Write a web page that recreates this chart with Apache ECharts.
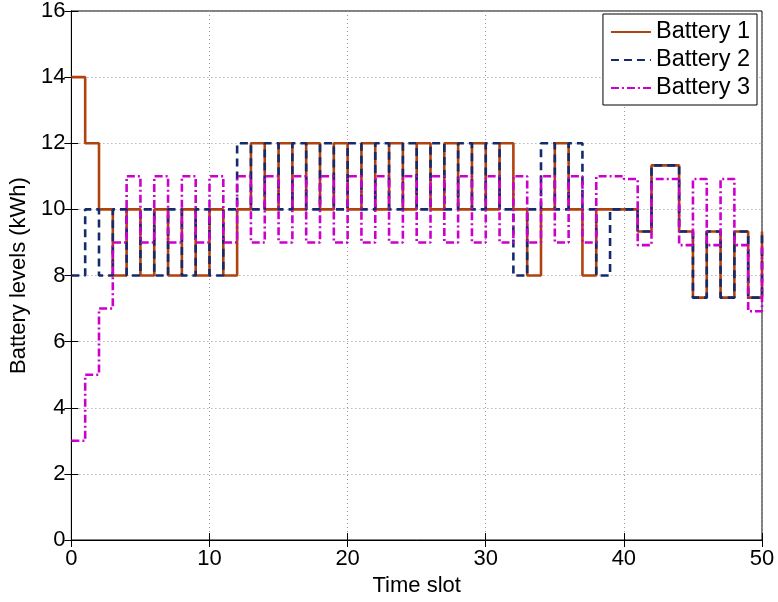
<!DOCTYPE html>
<html>
<head>
<meta charset="utf-8">
<script src="https://cdn.jsdelivr.net/npm/echarts@6/dist/echarts.min.js"></script>
<style>
html,body{margin:0;padding:0;background:#fff;}
#chart{width:778px;height:602px;}
</style>
</head>
<body>
<div id="chart"></div>
<script>
// Time slots 0..50 (value at slot k holds over [k, k+1))
const timeSlots = [0,1,2,3,4,5,6,7,8,9,10,11,12,13,14,15,16,17,18,19,20,21,22,23,24,25,26,27,28,29,30,31,32,33,34,35,36,37,38,39,40,41,42,43,44,45,46,47,48,49,50];

const battery1 = [14,12,10,8,10,8,10,8,10,8,10,8,10,12,10,12,10,12,10,12,10,12,10,12,10,12,10,12,10,12,10,12,10,8,10,12,10,8,10,10,10,9.33,11.33,11.33,9.33,7.33,9.33,7.33,9.33,7.33,9.33];

const battery2 = [8,10,8,10,8,10,8,10,8,10,8,10,12,10,12,10,12,10,12,10,12,10,12,10,12,10,12,10,12,10,12,10,8,10,12,10,12,10,8,10,10,9.33,11.33,11.33,9.33,7.33,9.33,7.33,9.33,7.33,9.33];

const battery3 = [3,5,7,9,11,9,11,9,11,9,11,9,11,9,11,9,11,9,11,9,11,9,11,9,11,9,11,9,11,9,11,9,11,9,11,9,11,9,11,11,10.92,8.92,10.92,10.92,8.92,10.92,8.92,10.92,8.92,6.92,8.92];

const seriesNames = ['Battery 1','Battery 2','Battery 3'];
const xTicks = {min:0, max:50, interval:10};
const yTicks = {min:0, max:16, interval:2};

const toPairs = arr => timeSlots.map((t,i)=>[t, arr[i]]);

const FONT = 'Liberation Sans';
const FS = 22;
const LFS = 23.5;

const chart = echarts.init(document.getElementById('chart'), null, {renderer:'canvas'});

const baseAxisCommon = {
  axisLine:{show:true, lineStyle:{color:'#000', width:1}},
  axisTick:{show:true, inside:true, length:7, lineStyle:{color:'#000', width:1}},
  splitLine:{show:false},
  minorTick:{show:false}
};

chart.setOption({
  animation:false,
  backgroundColor:'#fff',
  textStyle:{fontFamily:FONT},
  grid:{left:70, right:16, top:7, bottom:59, show:true, borderColor:'#000', borderWidth:1, backgroundColor:'#fff'},
  legend:{
    data:seriesNames.map(n=>({name:n, itemStyle:{opacity:0}})),
    orient:'vertical',
    right:21, top:14,
    backgroundColor:'#fff',
    borderColor:'#000', borderWidth:1, borderRadius:0,
    padding:[6,7,5,7],
    itemWidth:40, itemHeight:14, itemGap:4,
    itemStyle:{opacity:0},
    textStyle:{fontFamily:FONT, fontSize:LFS, color:'#000'}
  },
  xAxis:[
    Object.assign({}, baseAxisCommon, {
      type:'value', min:xTicks.min, max:xTicks.max, interval:xTicks.interval, position:'bottom',
      name:'Time slot', nameLocation:'middle', nameGap:35,
      nameTextStyle:{fontFamily:FONT, fontSize:FS, color:'#000'},
      axisLabel:{show:true, fontFamily:FONT, fontSize:FS, color:'#000', margin:8},
      splitLine:{show:true, lineStyle:{color:'#999', width:1, type:[1,3]}}
    }),
    Object.assign({}, baseAxisCommon, {
      type:'value', min:xTicks.min, max:xTicks.max, interval:xTicks.interval, position:'top',
      axisLabel:{show:false}
    })
  ],
  yAxis:[
    Object.assign({}, baseAxisCommon, {
      type:'value', min:yTicks.min, max:yTicks.max, interval:yTicks.interval, position:'left',
      name:'Battery levels (kWh)', nameLocation:'middle', nameGap:38,
      nameTextStyle:{fontFamily:FONT, fontSize:FS, color:'#000'},
      axisLabel:{show:true, fontFamily:FONT, fontSize:FS, color:'#000', margin:6},
      splitLine:{show:true, lineStyle:{color:'#999', width:1, type:[1,3]}}
    }),
    Object.assign({}, baseAxisCommon, {
      type:'value', min:yTicks.min, max:yTicks.max, interval:yTicks.interval, position:'right',
      axisLabel:{show:false}
    })
  ],
  series:[
    {name:seriesNames[0], type:'line', step:'end', xAxisIndex:0, yAxisIndex:0, symbol:'none', showSymbol:false,
     data:toPairs(battery1), color:'#B0420E',
     lineStyle:{color:'#B0420E', width:2.6, type:'solid'}},
    {name:seriesNames[1], type:'line', step:'end', xAxisIndex:0, yAxisIndex:0, symbol:'none', showSymbol:false,
     data:toPairs(battery2), color:'#142A6B',
     lineStyle:{color:'#142A6B', width:2.6, type:[8,5]}},
    {name:seriesNames[2], type:'line', step:'end', xAxisIndex:0, yAxisIndex:0, symbol:'none', showSymbol:false,
     data:toPairs(battery3), color:'#CC00CC',
     lineStyle:{color:'#CC00CC', width:2.6, type:[8,3,2,3]}}
  ]
});
</script>
</body>
</html>
